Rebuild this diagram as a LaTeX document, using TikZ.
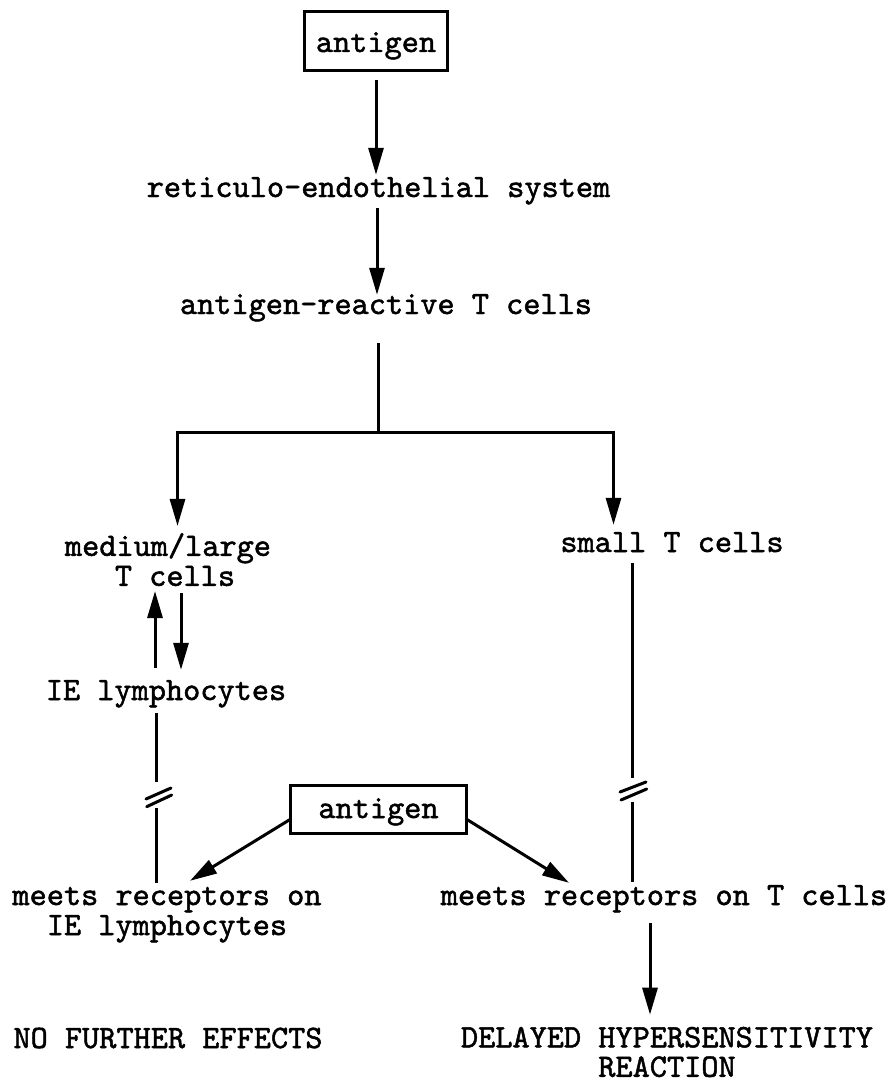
\documentclass[tikz,border=0pt]{standalone}
\usepackage{fontspec}
\newfontfamily\typew{lmmono10-regular.otf}[FakeBold=1.5]
\usetikzlibrary{arrows.meta,calc}
\begin{document}
\begin{tikzpicture}[x=1pt,y=-1pt,
  txt/.style={inner sep=0pt, align=center, font=\fontsize{32.7}{30}\selectfont\typew},
  txtb/.style={inner sep=0pt, align=center, font=\fontsize{32.7}{27}\selectfont\typew},
  box/.style={draw, line width=3pt, inner sep=0pt, font=\fontsize{32.7}{30}\selectfont\typew},
  ln/.style={line width=3pt},
  arr/.style={line width=3pt, -{Triangle[length=27pt,width=15pt]}},
  brk/.style={line width=3pt, line cap=round}]
\useasboundingbox (0,0) rectangle (892,1081);

% nodes
\node[box, minimum width=143pt, minimum height=59pt, text height=26pt, text depth=4pt] (ag1) at (376,41) {antigen};
\node[txt] (res) at (378.5,191) {\strut reticulo-endothelial system};
\node[txt] (art) at (386,308) {\strut antigen-reactive T cells};
\node[txt] (ml) at (168,564) {\strut medium/large\\\strut\hspace{14pt}T cells};
\node[txt] (st) at (672,546) {\strut small T cells};
\node[txt] (iel) at (166,694) {\strut IE lymphocytes};
\node[box, minimum width=176pt, minimum height=48pt, text height=24pt, text depth=7pt] (ag2) at (378.5,809.5) {antigen};
\node[txt] (mrl) at (167,914) {\strut meets receptors on\\\strut IE lymphocytes};
\node[txt] (mrt) at (664,899) {\strut meets receptors on T cells};
\node[txt] (nfe) at (168,1042) {\strut NO FURTHER EFFECTS};
\node[txtb] (dhr) at (667,1052) {\strut DELAYED HYPERSENSITIVITY\\REACTION};

% main chain
\draw[arr] ($(ag1.south)+(0,8)$) -- ($(ag1.south |- res.north)+(0,-1)$);
\draw[arr] ($(res.south)+(-1.5,2)$) -- ($(res.south |- art.north)+(-1.5,2)$);
\coordinate (fork) at (378,432);
\coordinate (fl) at (177.5,432);
\coordinate (fr) at (613.5,432);
\draw[ln] ($(art.south)+(-8,20)$) -- (fork);
\draw[arr] (fork) -| ($(fl |- ml.north)+(0,-7)$);
\draw[arr] (fork) -| ($(fr |- st.north)+(0,-6)$);

% two-way arrows
\draw[arr] ($(iel.north)+(-11,-11)$) -- ($(iel.north |- ml.south)+(-11,-4)$);
\draw[arr] ($(ml.south)+(13,-2)$) -- ($(ml.south |- iel.north)+(13,-9)$);

% left broken line
\coordinate (lb1) at (156.5,782);
\coordinate (lb2) at (156.5,808);
\draw[ln] ($(iel.south -| lb1)+(0,4)$) -- (lb1);
\draw[ln] (lb2) -- ($(lb2 |- mrl.north)+(0,-1)$);
\draw[brk] (146,799) -- (171,788);
\draw[brk] (146.7,806.7) -- (171.7,795);

% right broken line
\coordinate (rb1) at (632,778);
\coordinate (rb2) at (632,802);
\draw[ln] ($(st.south -| rb1)+(0,2)$) -- (rb1);
\draw[ln] (rb2) -- ($(rb2 |- mrt.north)+(0,-2)$);
\draw[brk] (620,792) -- (646,782);
\draw[brk] (621,800) -- (646.7,789);

% antigen arrows
\draw[arr] ($(ag2.west)+(1,10)$) -- ($(mrl.north)+(23,-3)$);
\draw[arr] ($(ag2.east)+(-1,10)$) -- ($(mrt.north)+(-95,-1)$);

% final arrow
\draw[arr] ($(mrt.south)+(-14,9)$) -- ($(dhr.north)+(-17,-12)$);
\end{tikzpicture}
\end{document}
